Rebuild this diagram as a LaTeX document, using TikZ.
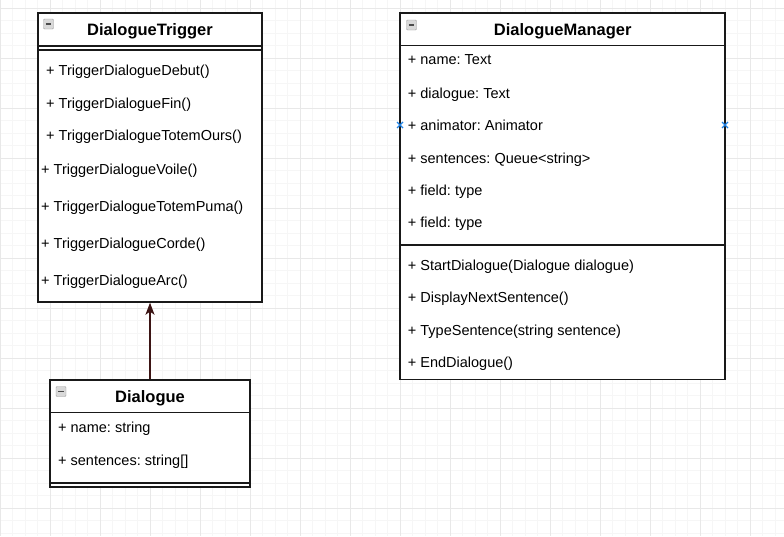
\documentclass[tikz,border=0pt]{standalone}
\usepackage{fontspec}
\setmainfont{Liberation Sans}
\usepackage{tikz}
\usetikzlibrary{arrows.meta}
\frenchspacing
\definecolor{gridminor}{RGB}{246,246,246}
\definecolor{gridmajor}{RGB}{232,232,232}
\definecolor{boxline}{RGB}{25,25,25}
\definecolor{arrowline}{RGB}{60,20,20}
\definecolor{markblue}{RGB}{30,130,230}
\tikzset{
	classbox/.style={rectangle,draw=boxline,line width=1.4pt,fill=white,inner sep=0pt},
	classtitle/.style={anchor=base,inner sep=0pt,font=\fontsize{16.5}{19}\selectfont\bfseries},
	member/.style={anchor=base west,inner sep=0pt,font=\fontsize{14.5}{17}\selectfont},
	minusbox/.style={rectangle,rounded corners=1pt,draw=gray!75,fill=gray!30,
		minimum size=10pt,inner sep=0pt,
		path picture={\draw[black!70,line width=1.3pt]
			([xshift=2.3pt]path picture bounding box.west) --
			([xshift=-2.3pt]path picture bounding box.east);}},
	divider/.style={draw=boxline,line width=1.2pt}
}

\begin{document}
\begin{tikzpicture}[x=1pt,y=-1pt]
		% background grid
		\fill[white] (0,0) rectangle (784,536);
		\useasboundingbox (0,0) rectangle (784,536);
		\foreach \x in {0,12.5,...,784} \draw[gridminor,line width=0.8pt] (\x,0) -- (\x,536);
		\foreach \y in {8,20.5,...,536} \draw[gridminor,line width=0.8pt] (0,\y) -- (784,\y);
		\foreach \x in {0,50,...,750} \draw[gridmajor,line width=0.9pt] (\x,0) -- (\x,536);
		\foreach \y in {8,58,...,508} \draw[gridmajor,line width=0.9pt] (0,\y) -- (784,\y);

		% class boxes
		\begin{scope}[every node/.style={classbox}]
		    \node (trigger) at (150,157.5) [minimum width=224pt,minimum height=289pt] {};
		    \node (dialogue) at (150,433.5) [minimum width=200pt,minimum height=107pt] {};
		    \node (manager) at (562.5,196.25) [minimum width=325pt,minimum height=366.5pt] {};
		\end{scope}

		% compartments
		\draw[divider] (38,46) -- (262,46);
		\draw[divider] (38,50) -- (262,50);
		\draw[divider] (50,412.5) -- (250,412.5);
		\draw[divider] (50,483) -- (250,483);
		\draw[divider] (400,45.5) -- (725,45.5);
		\draw[divider] (400,245) -- (725,245);

		% collapse icons
		\node[minusbox] (triggericon) at (48.5,24) {};
		\node[minusbox] (dialogueicon) at (61,391.5) {};
		\node[minusbox] (managericon) at (411.5,25) {};

		% titles
		\node[classtitle] (triggertitle) at (150,35.9) {DialogueTrigger};
		\node[classtitle] (dialoguetitle) at (150,402.6) {Dialogue};
		\node[classtitle] (managertitle) at (562.7,35.9) {DialogueManager};

		% members
		\begin{scope}[every node/.style={member}]
		    \node (t1) at (46,75.9) {+ TriggerDialogueDebut()};
		    \node (t2) at (46,108.5) {+ TriggerDialogueFin()};
		    \node (t3) at (46,140.2) {+ TriggerDialogueTotemOurs()};
		    \node (t4) at (41,174.2) {+ TriggerDialogueVoile()};
		    \node (t5) at (41,211.2) {+ TriggerDialogueTotemPuma()};
		    \node (t6) at (41,248.2) {+ TriggerDialogueCorde()};
		    \node (t7) at (41,285.9) {+ TriggerDialogueArc()};

		    \node (d1) at (58,432.9) {+ name: string};
		    \node (d2) at (58,465.2) {+ sentences: string[]};

		    \node (m1) at (407.7,64.5) {+ name: Text};
		    \node (m2) at (407.7,98.5) {+ dialogue: Text};
		    \node (m3) at (407.7,130.2) {+ animator: Animator};
		    \node (m4) at (407.7,163.5) {+ sentences: Queue<string>};
		    \node (m5) at (407.7,195.2) {+ field: type};
		    \node (m6) at (407.7,227.9) {+ field: type};
		    \node (m7) at (407.7,270.9) {+ StartDialogue(Dialogue dialogue)};
		    \node (m8) at (407.7,302.9) {+ DisplayNextSentence()};
		    \node (m9) at (407.7,335.2) {+ TypeSentence(string sentence)};
		    \node (m10) at (407.7,367.9) {+ EndDialogue()};
		\end{scope}

		% connection markers
		\foreach \mx in {400,725}
		    \draw[markblue,line width=1.1pt] (\mx-3,122) -- (\mx+3,128) (\mx-3,128) -- (\mx+3,122);

		% association
		\begin{scope}[>={Stealth[length=12pt,width=9pt,inset=3pt]},
		              every edge/.style={draw=arrowline,line width=1.3pt}]
		    \path [->] (dialogue.north) edge (trigger.south);
		\end{scope}
		\end{tikzpicture}
\end{document}
